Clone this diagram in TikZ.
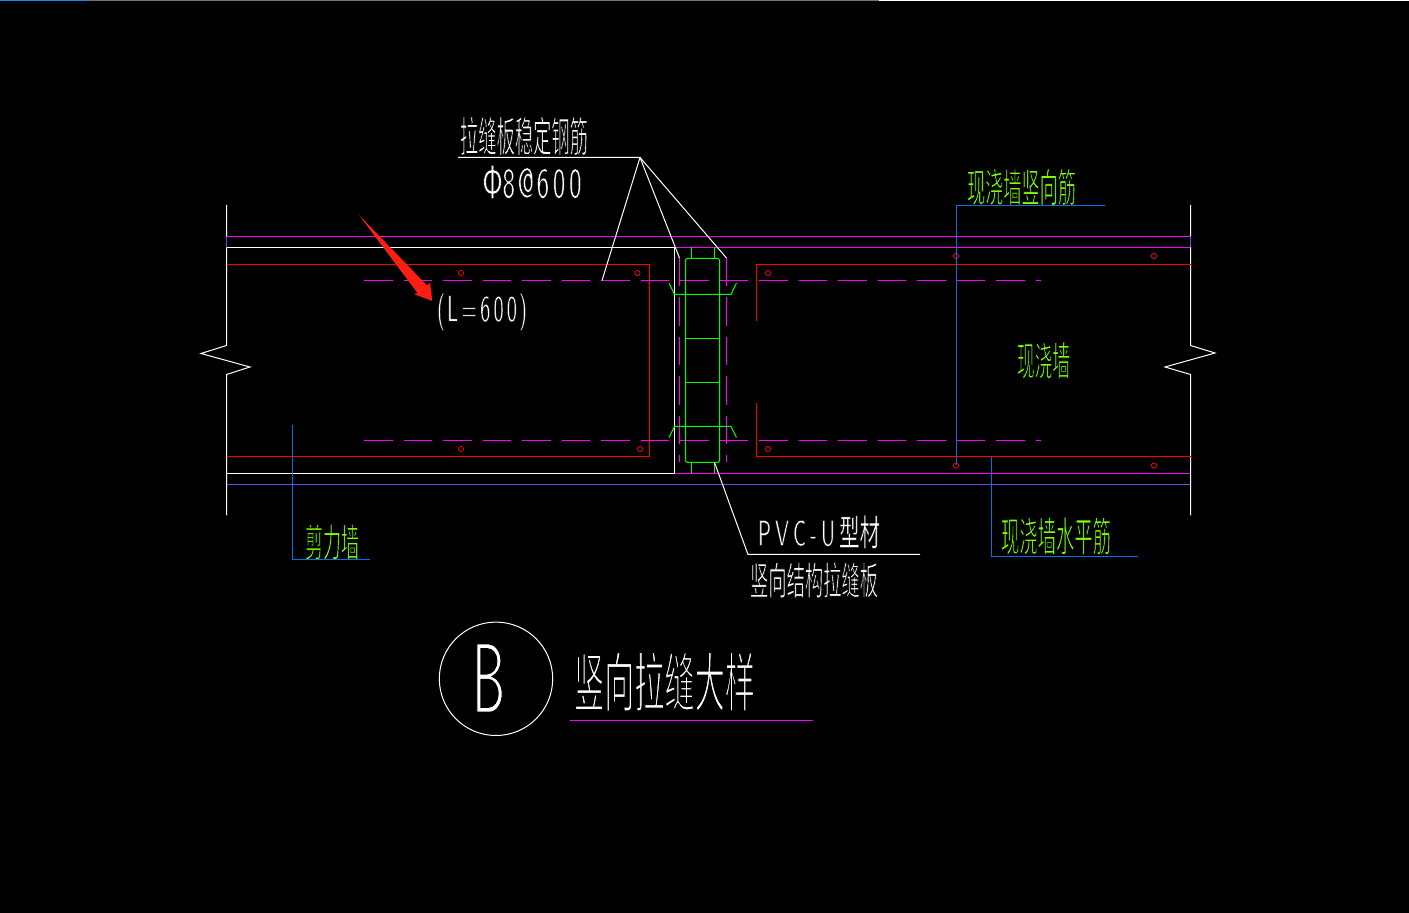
\documentclass[tikz,border=0pt]{standalone}
\usepackage{graphicx}
\usepackage{fontspec}
\newfontfamily\cjk{Noto Sans CJK SC}
\newlength\pxu
\setlength\pxu{0.5pt}
\newcommand{\fitbox}[3]{\resizebox*{#1\pxu}{#2\pxu}{#3}}
% thin the glyphs: fill, then stroke their edge in the background colour
\newcommand{\slim}[2]{\special{pdf:code q 2 Tr 0 0 0 RG #1 w}#2\special{pdf:code Q}}
\definecolor{cadmag}{RGB}{255,0,255}
\definecolor{cadred}{RGB}{255,0,0}
\definecolor{cadgreen}{RGB}{0,255,0}
\definecolor{cadlime}{RGB}{128,255,0}
\definecolor{cadblue}{RGB}{0,112,230}
\definecolor{cadpurple}{RGB}{110,70,230}
\definecolor{arrowred}{RGB}{255,30,20}
\tikzset{
  wall/.style={white,line width=0.5pt},
  mag/.style={cadmag,line width=0.5pt},
  magdash/.style={cadmag,line width=0.5pt,dash pattern=on 14.25pt off 5.5pt},
  rebar/.style={cadred,line width=0.5pt},
  bar/.style={cadred,line width=0.4pt},
  plate/.style={cadgreen,line width=0.5pt},
  lead/.style={cadblue,line width=0.5pt},
  lbl/.style={inner sep=0pt,outer sep=0pt,anchor=center},
  wlbl/.style={lbl,text=white},
  glbl/.style={lbl,text=cadlime}
}
\begin{document}
\begin{tikzpicture}[x=0.5pt,y=-0.5pt]
\fill[black] (0,0) rectangle (1409,913);
\useasboundingbox (0,0) rectangle (1409,913);
% top strip
\fill[white] (879,0) rectangle (1409,1);
\fill[black!55!white] (90,0) rectangle (879,1);
\fill[blue!50!cyan!70!gray] (0,0) rectangle (90,1);
% long lines
\draw[mag] (226.5,236.5) -- (1190.5,236.5);
\draw[mag] (675,247.5) -- (1190.5,247.5);
\draw[mag] (675,473.5) -- (1190.5,473.5);
\draw[cadpurple,line width=0.5pt] (226.5,484.5) -- (1190.5,484.5);
\draw[cadpurple,line width=0.5pt] (226.5,236.5) -- (226.5,247.5);
\draw[cadpurple,line width=0.5pt] (1190.5,236.5) -- (1190.5,247.5);
% walls
\draw[wall] (226.5,205) -- (226.5,236.5) (226.5,247.5) -- (226.5,345.5) -- (201,353.5) -- (250,367) -- (226.5,374.5) -- (226.5,515.5);
\draw[wall] (1190.5,205) -- (1190.5,236.5) (1190.5,247.5) -- (1190.5,345.5) -- (1215,353) -- (1165,367) -- (1190.5,374.5) -- (1190.5,515.5);
\draw[wall] (226.5,247.5) -- (674.5,247.5) -- (674.5,473.5) -- (226.5,473.5);
% red rebar
\draw[rebar] (226.5,264.5) -- (649.5,264.5) -- (649.5,456.5) -- (226.5,456.5);
\draw[rebar] (1190.5,264.5) -- (756.5,264.5) -- (756.5,321);
\draw[rebar] (1190.5,456.5) -- (756.5,456.5) -- (756.5,403);
\foreach \px/\py in {461/273,637.5/273,461/449,640/449,768/273,768/449,956/256,1154/256,956/465.5,1154/465.5}
  \draw[bar] (\px,\py) circle (2.6);
% magenta dashes
\draw[magdash] (364,280.5) -- (1041,280.5);
\draw[magdash] (364,440.5) -- (1041,440.5);
\draw[magdash] (679.5,258) -- (679.5,462);
\draw[magdash] (726.5,258) -- (726.5,462);
% green plate
\draw[plate] (685.5,260) -- (687,258.5) -- (718,258.5) -- (719.5,260) -- (719.5,461) -- (718,462.5) -- (687,462.5) -- (685.5,461) -- cycle;
\draw[plate] (691.5,247.5) -- (691.5,258.5);
\draw[plate] (714.5,247.5) -- (714.5,258.5);
\draw[plate] (691.5,462.5) -- (691.5,473.5);
\draw[plate] (714.5,462.5) -- (714.5,473.5);
\draw[plate] (685.5,338.5) -- (719.5,338.5);
\draw[plate] (685.5,382.5) -- (719.5,382.5);
\draw[plate] (669,283) -- (674.5,294.5) -- (731,294.5) -- (736.5,283);
\draw[plate] (669,437.5) -- (674.5,426.5) -- (731,426.5) -- (736.5,437.5);
% labels
\node[wlbl] (tlabel) at (524,136) {\fitbox{128}{39}{\slim{0.22}{\cjk 拉缝板稳定钢筋}}};
\node[wlbl] (spec) at (532,182) {\fitbox{99}{33}{\slim{0.12}{\cjk Φ\sffamily 8\kern0.1em @\kern0.1em 6\kern0.15em 0\kern0.15em 0}}};
\node[wlbl] (len) at (482,312) {\fitbox{90}{37}{\slim{0.12}{\sffamily (\kern0.1em L\kern0.15em =\kern0.15em 6\kern0.15em 0\kern0.15em 0\kern0.1em )}}};
\node[glbl] (vbar) at (1021.5,187) {\fitbox{109}{37}{\slim{0.22}{\cjk 现浇墙竖向筋}}};
\node[glbl] (cast) at (1043.5,360.5) {\fitbox{53}{37}{\slim{0.22}{\cjk 现浇墙}}};
\node[glbl] (shear) at (332,542) {\fitbox{54}{36}{\slim{0.22}{\cjk 剪力墙}}};
\node[glbl] (hbar) at (1056,536) {\fitbox{110}{38}{\slim{0.22}{\cjk 现浇墙水平筋}}};
\node[wlbl] (pvc) at (819,532) {\fitbox{122}{33}{\slim{0.12}{\sffamily P\kern0.2em V\kern0.2em C\kern0.2em -\kern0.2em U\kern0.2em\cjk 型材}}};
\node[wlbl] (slab) at (814,580) {\fitbox{128}{36}{\slim{0.22}{\cjk 竖向结构拉缝板}}};
\node[wlbl] (title) at (664.5,681.5) {\fitbox{181}{60}{\slim{0.3}{\cjk 竖向拉缝大样}}};
\node[wall,draw,circle,minimum size=56.7pt,inner sep=0pt] (ring) at (496,678.8) {};
\node[wlbl] (letter) at (488.5,678) {\fitbox{33}{69}{\slim{0.18}{\sffamily B}}};
% leaders
\coordinate (apex) at (640,157.5);
\coordinate (tstart) at (458,157.5);
\coordinate (t1) at (602,280.5);
\coordinate (t2) at (679.5,258);
\coordinate (t3) at (726.5,258);
\draw[wall] (tstart) -- (apex) -- (t1);
\draw[wall] (apex) -- (t2);
\draw[wall] (apex) -- (t3);
\coordinate (p0) at (714.5,462.5);
\coordinate (p1) at (748,554.5);
\coordinate (p2) at (920,554.5);
\draw[wall] (p0) -- (p1) -- (p2);
\coordinate (u1) at (570,720.5);
\coordinate (u2) at (813,720.5);
\draw[mag] (u1) -- (u2);
% blue leaders
\coordinate (b1a) at (956.5,465);
\coordinate (b1b) at (956.5,205.5);
\coordinate (b1c) at (1105,205.5);
\draw[lead] (b1a) -- (b1b) -- (b1c);
\coordinate (b2a) at (292.5,425);
\coordinate (b2b) at (292.5,559.5);
\coordinate (b2c) at (370,559.5);
\draw[lead] (b2a) -- (b2b) -- (b2c);
\coordinate (b3a) at (991.5,457);
\coordinate (b3b) at (991.5,556.5);
\coordinate (b3c) at (1138,556.5);
\draw[lead] (b3a) -- (b3b) -- (b3c);
% red arrow
\fill[arrowred] (359,215) -- (427,285.5) -- (430,282.7) -- (432.3,301) -- (414.3,294.3) -- (417.5,293) -- cycle;
\end{tikzpicture}
\end{document}
